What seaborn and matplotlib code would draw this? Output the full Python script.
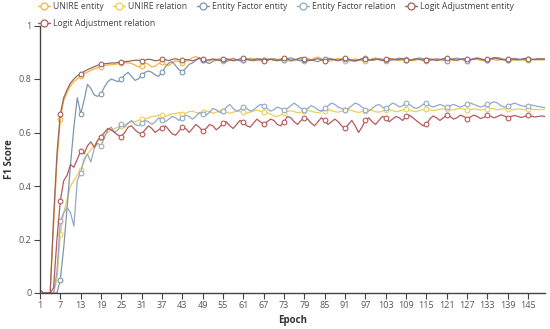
import numpy as np
import pandas as pd
import matplotlib
matplotlib.use("Agg")
import matplotlib.pyplot as plt
import seaborn as sns
from matplotlib.lines import Line2D

epochs = list(range(1, 151))
xtick_labels = list(range(1, 151, 6))
ytick_values = [0, 0.2, 0.4, 0.6, 0.8, 1.0]
ytick_labels = ["0", "0.2", "0.4", "0.6", "0.8", "1"]

series_names = ["UNIRE entity", "UNIRE relation", "Entity Factor entity",
                "Entity Factor relation", "Logit Adjustment entity", "Logit Adjustment relation"]

unire_entity = [
    0, 0, 0, 0, 0.25, 0.49, 0.65, 0.72, 0.75, 0.775,
    0.79, 0.80, 0.81, 0.82, 0.826, 0.832, 0.838, 0.842, 0.846, 0.85,
    0.852, 0.854, 0.855, 0.857, 0.858, 0.86, 0.861, 0.858, 0.852, 0.845,
    0.85, 0.86, 0.855, 0.845, 0.848, 0.858, 0.862, 0.855, 0.85, 0.86,
    0.868, 0.865, 0.86, 0.866, 0.872, 0.88, 0.884, 0.876, 0.87, 0.866,
    0.868, 0.872, 0.875, 0.87, 0.866, 0.87, 0.874, 0.878, 0.872, 0.868,
    0.87, 0.874, 0.878, 0.875, 0.87, 0.868, 0.872, 0.876, 0.873, 0.869,
    0.872, 0.876, 0.874, 0.870, 0.866, 0.870, 0.873, 0.872, 0.868, 0.866,
    0.872, 0.878, 0.882, 0.876, 0.87, 0.866, 0.868, 0.873, 0.877, 0.874,
    0.869, 0.866, 0.87, 0.875, 0.872, 0.868, 0.866, 0.871, 0.876, 0.879,
    0.874, 0.87, 0.868, 0.872, 0.876, 0.873, 0.869, 0.871, 0.874, 0.872,
    0.868, 0.871, 0.874, 0.872, 0.869, 0.872, 0.875, 0.873, 0.87, 0.872,
    0.875, 0.872, 0.869, 0.871, 0.874, 0.872, 0.87, 0.872, 0.875, 0.873,
    0.87, 0.868, 0.871, 0.874, 0.872, 0.87, 0.872, 0.874, 0.872, 0.87,
    0.871, 0.873, 0.872, 0.87, 0.871, 0.872, 0.873, 0.872, 0.871, 0.872,
]

unire_relation = [
    0, 0, 0, 0, 0, 0.05, 0.22, 0.30, 0.35, 0.40,
    0.42, 0.44, 0.46, 0.49, 0.52, 0.535, 0.55, 0.57, 0.58, 0.59,
    0.60, 0.61, 0.615, 0.62, 0.625, 0.63, 0.635, 0.64, 0.64, 0.645,
    0.65, 0.65, 0.655, 0.66, 0.66, 0.665, 0.665, 0.66, 0.665, 0.67,
    0.67, 0.675, 0.668, 0.672, 0.678, 0.68, 0.675, 0.67, 0.675, 0.68,
    0.678, 0.672, 0.676, 0.682, 0.68, 0.675, 0.672, 0.676, 0.68, 0.678,
    0.675, 0.672, 0.676, 0.68, 0.684, 0.68, 0.676, 0.674, 0.668, 0.662,
    0.66, 0.665, 0.672, 0.678, 0.682, 0.678, 0.674, 0.676, 0.68, 0.683,
    0.68, 0.676, 0.674, 0.678, 0.682, 0.685, 0.682, 0.678, 0.676, 0.68,
    0.684, 0.686, 0.682, 0.678, 0.675, 0.678, 0.682, 0.685, 0.682, 0.678,
    0.676, 0.68, 0.684, 0.686, 0.682, 0.678, 0.68, 0.684, 0.686, 0.683,
    0.68, 0.678, 0.682, 0.686, 0.688, 0.685, 0.682, 0.684, 0.687, 0.689,
    0.686, 0.683, 0.685, 0.688, 0.69, 0.687, 0.684, 0.686, 0.688, 0.686,
    0.684, 0.686, 0.689, 0.691, 0.688, 0.685, 0.687, 0.689, 0.687, 0.685,
    0.686, 0.688, 0.687, 0.685, 0.686, 0.687, 0.686, 0.685, 0.686, 0.686,
]

ef_entity = [
    0, 0, 0, 0, 0, 0.0, 0.05, 0.17, 0.32, 0.48,
    0.62, 0.73, 0.67, 0.72, 0.78, 0.765, 0.74, 0.735, 0.745, 0.77,
    0.79, 0.80, 0.795, 0.79, 0.80, 0.815, 0.825, 0.81, 0.795, 0.80,
    0.815, 0.825, 0.83, 0.825, 0.815, 0.81, 0.825, 0.845, 0.86, 0.865,
    0.85, 0.835, 0.826, 0.84, 0.855, 0.86, 0.87, 0.88, 0.872, 0.862,
    0.858, 0.866, 0.872, 0.875, 0.87, 0.865, 0.87, 0.876, 0.872, 0.868,
    0.872, 0.876, 0.873, 0.868, 0.871, 0.875, 0.872, 0.869, 0.873, 0.876,
    0.873, 0.869, 0.872, 0.876, 0.879, 0.874, 0.87, 0.868, 0.872, 0.875,
    0.872, 0.868, 0.865, 0.87, 0.875, 0.878, 0.874, 0.87, 0.868, 0.871,
    0.875, 0.872, 0.868, 0.866, 0.87, 0.874, 0.877, 0.873, 0.869, 0.872,
    0.876, 0.874, 0.87, 0.868, 0.871, 0.875, 0.878, 0.875, 0.871, 0.869,
    0.872, 0.875, 0.879, 0.876, 0.872, 0.869, 0.872, 0.876, 0.874, 0.871,
    0.869, 0.872, 0.876, 0.878, 0.875, 0.871, 0.869, 0.873, 0.877, 0.879,
    0.876, 0.872, 0.87, 0.873, 0.877, 0.88, 0.877, 0.873, 0.871, 0.874,
    0.877, 0.875, 0.872, 0.874, 0.876, 0.874, 0.872, 0.873, 0.874, 0.873,
]

ef_relation = [
    0, 0, 0, 0, 0, 0.08, 0.27, 0.30, 0.32, 0.30,
    0.25, 0.42, 0.45, 0.50, 0.52, 0.49, 0.54, 0.56, 0.55, 0.58,
    0.61, 0.62, 0.60, 0.61, 0.63, 0.62, 0.635, 0.645, 0.63, 0.625,
    0.635, 0.645, 0.64, 0.63, 0.64, 0.655, 0.645, 0.64, 0.65, 0.66,
    0.655, 0.645, 0.655, 0.665, 0.66, 0.65, 0.66, 0.675, 0.67, 0.665,
    0.675, 0.69, 0.685, 0.675, 0.68, 0.695, 0.705, 0.69, 0.68, 0.685,
    0.695, 0.69, 0.68, 0.685, 0.695, 0.705, 0.70, 0.69, 0.68, 0.685,
    0.695, 0.69, 0.685, 0.69, 0.70, 0.71, 0.70, 0.69, 0.685, 0.69,
    0.70, 0.695, 0.685, 0.68, 0.69, 0.70, 0.71, 0.705, 0.695, 0.69,
    0.685, 0.69, 0.70, 0.71, 0.705, 0.695, 0.685, 0.68, 0.69, 0.70,
    0.705, 0.695, 0.69, 0.70, 0.71, 0.705, 0.695, 0.70, 0.71, 0.705,
    0.695, 0.69, 0.695, 0.705, 0.71, 0.70, 0.695, 0.70, 0.705, 0.70,
    0.695, 0.70, 0.705, 0.70, 0.695, 0.70, 0.705, 0.71, 0.705, 0.70,
    0.695, 0.70, 0.705, 0.71, 0.715, 0.71, 0.70, 0.695, 0.70, 0.705,
    0.71, 0.705, 0.70, 0.698, 0.70, 0.703, 0.70, 0.697, 0.695, 0.693,
]

la_entity = [
    0.00, 0.00, 0.00, 0.00, 0.28, 0.52, 0.67, 0.73, 0.76, 0.785,
    0.800, 0.812, 0.820, 0.828, 0.835, 0.840, 0.846, 0.851, 0.855, 0.857,
    0.858, 0.860, 0.860, 0.862, 0.862, 0.865, 0.866, 0.868, 0.870, 0.870,
    0.869, 0.871, 0.874, 0.872, 0.868, 0.870, 0.874, 0.872, 0.869, 0.873,
    0.876, 0.872, 0.870, 0.873, 0.871, 0.868, 0.872, 0.877, 0.874, 0.870,
    0.872, 0.875, 0.871, 0.869, 0.873, 0.876, 0.872, 0.868, 0.871, 0.875,
    0.878, 0.873, 0.870, 0.872, 0.876, 0.873, 0.869, 0.872, 0.875, 0.871,
    0.868, 0.872, 0.877, 0.874, 0.870, 0.872, 0.875, 0.880, 0.876, 0.871,
    0.869, 0.873, 0.876, 0.872, 0.868, 0.871, 0.875, 0.873, 0.870, 0.874,
    0.878, 0.874, 0.871, 0.869, 0.872, 0.876, 0.873, 0.870, 0.872, 0.875,
    0.872, 0.869, 0.873, 0.877, 0.874, 0.871, 0.873, 0.876, 0.872, 0.870,
    0.873, 0.876, 0.873, 0.870, 0.872, 0.875, 0.872, 0.869, 0.872, 0.876,
    0.879, 0.875, 0.872, 0.870, 0.873, 0.876, 0.873, 0.871, 0.874, 0.877,
    0.874, 0.871, 0.873, 0.876, 0.880, 0.876, 0.873, 0.871, 0.874, 0.876,
    0.873, 0.871, 0.874, 0.877, 0.875, 0.873, 0.874, 0.876, 0.875, 0.875,
]

la_relation = [
    0, 0, 0, 0, 0.02, 0.20, 0.345, 0.42, 0.44, 0.48,
    0.47, 0.50, 0.53, 0.52, 0.55, 0.565, 0.545, 0.57, 0.585, 0.60,
    0.615, 0.61, 0.60, 0.59, 0.585, 0.60, 0.62, 0.625, 0.61, 0.60,
    0.595, 0.61, 0.625, 0.615, 0.60, 0.61, 0.618, 0.625, 0.61, 0.595,
    0.59, 0.605, 0.62, 0.615, 0.60, 0.615, 0.63, 0.62, 0.605, 0.615,
    0.63, 0.625, 0.61, 0.62, 0.635, 0.64, 0.625, 0.615, 0.63, 0.645,
    0.64, 0.625, 0.62, 0.635, 0.65, 0.64, 0.63, 0.64, 0.65, 0.645,
    0.63, 0.625, 0.64, 0.66, 0.655, 0.64, 0.63, 0.645, 0.655, 0.65,
    0.635, 0.625, 0.64, 0.655, 0.645, 0.63, 0.64, 0.65, 0.64, 0.625,
    0.615, 0.63, 0.645, 0.625, 0.60, 0.62, 0.645, 0.655, 0.64, 0.63,
    0.645, 0.66, 0.655, 0.64, 0.65, 0.66, 0.655, 0.645, 0.66, 0.665,
    0.655, 0.645, 0.635, 0.625, 0.63, 0.65, 0.662, 0.655, 0.645, 0.655,
    0.665, 0.66, 0.65, 0.655, 0.665, 0.66, 0.652, 0.658, 0.665, 0.66,
    0.652, 0.657, 0.664, 0.66, 0.655, 0.66, 0.666, 0.662, 0.656, 0.66,
    0.664, 0.66, 0.656, 0.66, 0.664, 0.661, 0.658, 0.66, 0.662, 0.66,
]

all_values = [unire_entity, unire_relation, ef_entity, ef_relation, la_entity, la_relation]
colors = ["#f3b43c", "#e9cf5a", "#7f96ad", "#93a9c4", "#9c625c", "#b5595a"]

sns.set_theme(style="white")
plt.rcParams["font.family"] = ["Open Sans", "DejaVu Sans"]

fig = plt.figure(figsize=(5.5, 3.29), dpi=100)
ax = fig.add_axes([40 / 550, 36 / 329, 505 / 550, 267.5 / 329])

for name, vals, col in zip(series_names, all_values, colors):
    df = pd.DataFrame({"Epoch": epochs, "F1": vals})
    sns.lineplot(data=df, x="Epoch", y="F1", ax=ax, color=col, linewidth=0.9,
                 marker="o", markevery=list(range(0, 150, 6)), markersize=3.4,
                 markerfacecolor="white", markeredgecolor=col, markeredgewidth=0.8,
                 legend=False)

ax.set_xlim(1, 150)
ax.set_ylim(0, 1)
ax.set_xticks(xtick_labels)
ax.set_xticklabels([str(v) for v in xtick_labels])
ax.set_yticks(ytick_values)
ax.set_yticklabels(ytick_labels)
for s in ["top", "right"]:
    ax.spines[s].set_visible(False)
for s in ["left", "bottom"]:
    ax.spines[s].set_color("#444444")
    ax.spines[s].set_linewidth(1.0)
ax.tick_params(axis="both", which="major", length=4, width=0.8, color="#444444",
               labelsize=6.5, labelcolor="#555555", pad=2, direction="out",
               bottom=True, left=True)
ax.set_xlabel("Epoch", fontsize=7, fontweight="bold", color="#333333", labelpad=3)
ax.set_ylabel("F1 Score", fontsize=7, fontweight="bold", color="#333333", labelpad=3)
ax.grid(False)

handles = [Line2D([0], [0], color=c, linewidth=1.0, marker="o", markersize=5,
                  markerfacecolor="white", markeredgecolor=c, markeredgewidth=0.9)
           for c in colors]
leg_kw = dict(loc="upper left", frameon=False, fontsize=6.2, handlelength=1.4,
              handletextpad=0.35, columnspacing=1.1, borderaxespad=0.0,
              borderpad=0.0, labelcolor="#444444")
leg1 = fig.legend(handles[:5], series_names[:5], ncol=5,
                  bbox_to_anchor=(38 / 550, 1 - 2 / 329), **leg_kw)
leg2 = fig.legend(handles[5:], series_names[5:], ncol=1,
                  bbox_to_anchor=(38 / 550, 1 - 19 / 329), **leg_kw)

fig.savefig("out.png", dpi=100)
